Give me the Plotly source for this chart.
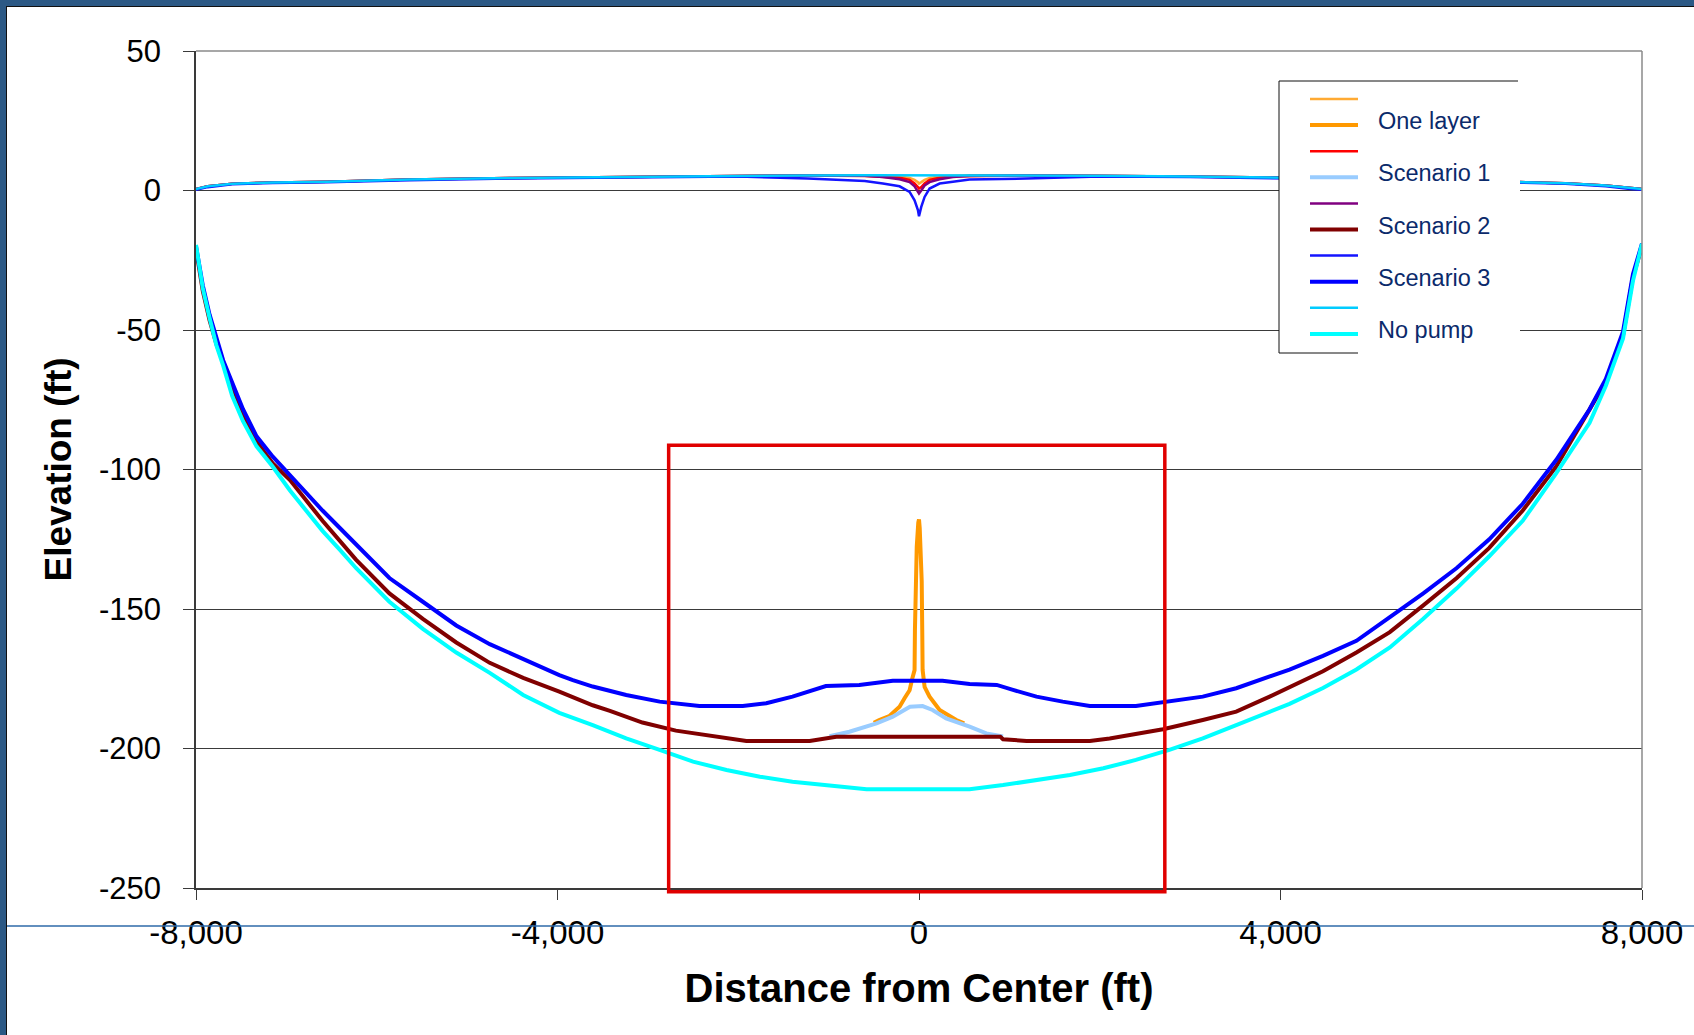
import plotly.graph_objects as go

# ---------------------------------------------------------------- axes
X_RANGE = [-8000, 8000]
Y_RANGE = [-250, 50]
X_TICKS = [-8000, -4000, 0, 4000, 8000]
X_TICK_LABELS = ["-8,000", "-4,000", "0", "4,000", "8,000"]
Y_TICKS = [50, 0, -50, -100, -150, -200, -250]
Y_TICK_LABELS = ["50", "0", "-50", "-100", "-150", "-200", "-250"]

# ---------------------------------------------------------------- water table (ft)
WT_X = [-8000, -7870, -7600, -7150, -6550, -5640, -4500, -3000, -2000, -1230,
        -600, -400, -215, -104, -49, -12, 0, 25, 62, 117, 228, 375, 560,
        1190, 2000, 3000, 4500, 5640, 6550, 7150, 7600, 7870, 8000]
WT_ONE_LAYER = [0.5, 1.5, 2.4, 2.9, 3.1, 3.9, 4.5, 5.0, 5.3, 5.4,
                5.5, 5.3, 5.0, 4.5, 3.8, 3.0, 2.5, 3.0, 3.8, 4.5, 5.0, 5.3, 5.5,
                5.4, 5.3, 5.0, 4.5, 3.9, 3.1, 2.6, 1.8, 0.8, 0.5]
WT_SCEN1 = [0.5, 1.5, 2.4, 2.9, 3.1, 3.9, 4.5, 5.0, 5.3, 5.4,
            5.2, 5.0, 4.6, 3.8, 2.5, 1.2, 0.7, 1.2, 2.5, 3.8, 4.6, 5.0, 5.1,
            5.4, 5.3, 5.0, 4.5, 3.9, 3.1, 2.6, 1.8, 0.8, 0.5]
WT_SCEN2 = [0.5, 1.5, 2.4, 2.9, 3.1, 3.9, 4.5, 5.0, 5.3, 5.4,
            5.3, 4.8, 4.0, 3.0, 1.5, -0.5, -1.1, 0.0, 1.8, 3.0, 4.0, 4.8, 5.3,
            5.4, 5.3, 5.0, 4.5, 3.9, 3.1, 2.6, 1.8, 0.8, 0.5]
WT_SCEN3 = [0.3, 1.2, 2.2, 2.7, 3.0, 3.7, 4.3, 4.8, 5.0, 4.3,
            3.4, 2.5, 1.5, -0.5, -3.5, -7.0, -9.2, -5.9, -2.3, 0.7, 2.5, 3.1, 3.9,
            4.3, 5.0, 4.8, 4.3, 3.7, 2.9, 2.4, 1.5, 0.5, 0.3]
WT_NO_PUMP = [0.5, 1.5, 2.4, 2.9, 3.1, 3.9, 4.5, 5.0, 5.3, 5.4,
              5.5, 5.5, 5.5, 5.5, 5.5, 5.5, 5.5, 5.5, 5.5, 5.5, 5.5, 5.5, 5.5,
              5.4, 5.3, 5.0, 4.5, 3.9, 3.1, 2.6, 1.8, 0.8, 0.5]

# ---------------------------------------------------------------- interface (ft)
ONE_LAYER_X = [-500, -440, -330, -215, -160, -104, -75, -49, -45, -30, -25, -8, 0,
               8, 30, 36, 40, 62, 117, 228, 413, 500]
ONE_LAYER_Y = [-190.8, -189.8, -188.4, -185.0, -182.0, -179.1, -175.0, -171.9,
               -157.5, -135.0, -127.7, -119.0, -117.9, -121.0, -140.0, -157.5,
               -171.9, -177.9, -181.4, -186.2, -189.8, -191.0]

SCEN1_X = [-990, -770, -470, -290, -100, 40, 150, 300, 560, 745, 930]
SCEN1_Y = [-195.6, -194.0, -191.0, -188.6, -185.0, -184.8, -186.2, -189.2,
           -192.2, -194.6, -195.7]

SCEN2_X = [-8000, -7925, -7850, -7775, -7700, -7480, -7330, -7150, -6960, -6600,
           -6230, -5860, -5490, -5120, -4750, -4380, -3980, -3610, -3420, -3060,
           -2690, -2320, -1910, -1210, -915, 900, 930, 1190, 1890, 2110, 2400,
           2700, 3140, 3510, 3880, 4100, 4470, 4840, 5210, 5580, 5950, 6310,
           6680, 7050, 7350, 7600, 7790, 7900, 8000]
SCEN2_Y = [-21.0, -36.0, -46.5, -55.0, -61.5, -80.2, -89.9, -97.8, -103.8, -118.4,
           -132.3, -144.4, -153.5, -162.0, -169.3, -174.7, -179.6, -184.5, -186.5,
           -190.7, -193.6, -195.5, -197.3, -197.3, -195.8, -195.8, -196.7, -197.3,
           -197.3, -196.4, -194.8, -193.1, -189.8, -186.8, -181.4, -178.0, -172.3,
           -165.6, -158.3, -148.7, -138.9, -128.1, -114.7, -99.0, -82.1, -68.5,
           -52.0, -31.0, -20.0]

SCEN3_X = [-8000, -7925, -7850, -7775, -7700, -7480, -7330, -7150, -6960, -6600,
           -6230, -5860, -5490, -5120, -4750, -4380, -3980, -3830, -3610, -3240,
           -2870, -2430, -1950, -1690, -1400, -1030, -660, -290, 260, 560, 860,
           1040, 1300, 1590, 1890, 2400, 2660, 3140, 3510, 3880, 4100, 4470,
           4840, 5210, 5580, 5950, 6310, 6680, 7050, 7420, 7600, 7790, 7900, 8000]
SCEN3_Y = [-20.0, -34.0, -44.5, -53.0, -60.8, -78.4, -88.1, -95.4, -102.0, -114.7,
           -126.8, -138.9, -147.4, -155.9, -162.6, -168.0, -173.7, -175.5, -177.8,
           -180.8, -183.2, -184.8, -184.8, -183.8, -181.4, -177.6, -177.2, -175.7,
           -175.7, -176.9, -177.2, -179.0, -181.4, -183.2, -184.8, -184.8, -183.7,
           -181.4, -178.4, -174.3, -171.7, -166.8, -161.4, -152.9, -144.4, -135.3,
           -125.0, -112.3, -96.6, -78.4, -67.5, -50.6, -30.0, -19.0]

NO_PUMP_X = [-8000, -7925, -7850, -7775, -7700, -7600, -7480, -7330, -7150, -6960,
             -6780, -6600, -6410, -6230, -5860, -5490, -5120, -4750, -4380, -3980,
             -3610, -3240, -2870, -2500, -2130, -1760, -1400, -1030, -660, -580,
             0, 560, 930, 1300, 1670, 2040, 2400, 2770, 3140, 3510, 3880, 4100,
             4470, 4840, 5210, 5580, 5950, 6310, 6680, 7050, 7420, 7600, 7790,
             7900, 8000]
NO_PUMP_Y = [-19.5, -35.0, -45.7, -55.4, -62.7, -73.6, -82.7, -91.7, -99.0, -107.5,
             -114.8, -122.0, -128.7, -135.3, -147.4, -157.1, -165.6, -172.9, -180.8,
             -187.2, -191.6, -196.4, -200.5, -204.7, -207.7, -210.1, -211.9, -213.1,
             -214.3, -214.6, -214.6, -214.6, -213.1, -211.3, -209.5, -207.1, -204.1,
             -200.5, -196.4, -191.6, -186.8, -184.0, -178.3, -171.7, -163.8, -153.5,
             -142.6, -131.1, -118.4, -101.4, -83.3, -70.0, -53.0, -32.4, -19.1]

# Highlighted zone around the well field (data units)
FOCUS_X = [-2770, 2720]
FOCUS_Y = [-251.3, -91.3]

# ---------------------------------------------------------------- series, in drawing order
SERIES = [
    # (legend label, x, y, colour, width)
    ("", WT_X, WT_ONE_LAYER, "#FFAA33", 2.5),
    ("One layer", ONE_LAYER_X, ONE_LAYER_Y, "#FF9900", 4),
    ("", WT_X, WT_SCEN1, "#FF0000", 2.5),
    ("Scenario 1", SCEN1_X, SCEN1_Y, "#99CCFF", 4),
    ("", WT_X, WT_SCEN2, "#800080", 2.5),
    ("Scenario 2", SCEN2_X, SCEN2_Y, "#800000", 4),
    ("", WT_X, WT_SCEN3, "#1414FF", 2.5),
    ("Scenario 3", SCEN3_X, SCEN3_Y, "#0000FF", 4),
    ("", WT_X, WT_NO_PUMP, "#00CCFF", 2.5),
    ("No pump", NO_PUMP_X, NO_PUMP_Y, "#00FFFF", 4),
]

W, H = 1694, 1035
M_L, M_R, M_T, M_B = 196, 52, 51, 147
FONT = "Liberation Sans, Arial, sans-serif"

fig = go.Figure()
for name, xs, ys, color, width in SERIES:
    fig.add_trace(go.Scatter(x=xs, y=ys, mode="lines", name=name or " ",
                             line=dict(color=color, width=width),
                             showlegend=False, hoverinfo="x+y"))


def px(xp):
    """page pixel -> paper x"""
    return (xp - M_L) / (W - M_L - M_R)


def py(yp):
    """page pixel -> paper y"""
    return (H - M_B - yp) / (H - M_T - M_B)


def dx(v):
    return (v - X_RANGE[0]) / (X_RANGE[1] - X_RANGE[0])


def dy(v):
    return (v - Y_RANGE[0]) / (Y_RANGE[1] - Y_RANGE[0])


shapes = []
# slide frame: blue band along top and left, with a dark inner edge
FRAME = "#2C5985"
shapes.append(dict(type="rect", xref="paper", yref="paper", x0=px(0), x1=px(W),
                   y0=py(6), y1=py(-2), fillcolor=FRAME, line_width=0, layer="above"))
shapes.append(dict(type="rect", xref="paper", yref="paper", x0=px(-2), x1=px(6),
                   y0=py(H + 2), y1=py(0), fillcolor=FRAME, line_width=0, layer="above"))
shapes.append(dict(type="line", xref="paper", yref="paper", x0=px(6), x1=px(W),
                   y0=py(6.5), y1=py(6.5), line=dict(color="#111111", width=1)))
shapes.append(dict(type="line", xref="paper", yref="paper", x0=px(6.5), x1=px(6.5),
                   y0=py(6), y1=py(H), line=dict(color="#111111", width=1)))
shapes.append(dict(type="line", xref="paper", yref="paper", x0=px(7), x1=px(W),
                   y0=py(926), y1=py(926), line=dict(color="#2E6AA8", width=1.5)))

# plot-area border (top and right)
shapes.append(dict(type="line", xref="paper", yref="paper", x0=0, x1=1, y0=1, y1=1,
                   line=dict(color="#8A8A8A", width=1.5)))
shapes.append(dict(type="line", xref="paper", yref="paper", x0=1, x1=1, y0=0, y1=1,
                   line=dict(color="#8A8A8A", width=1.5)))

# highlighted zone
shapes.append(dict(type="rect", xref="paper", yref="paper",
                   x0=dx(FOCUS_X[0]), x1=dx(FOCUS_X[1]),
                   y0=dy(FOCUS_Y[0]), y1=dy(FOCUS_Y[1]),
                   line=dict(color="#E00000", width=3.5), fillcolor="rgba(0,0,0,0)"))

# legend box
LEG_L, LEG_R, LEG_T, LEG_B = 1279, 1520, 81, 353
shapes.append(dict(type="rect", xref="paper", yref="paper", x0=px(LEG_L), x1=px(LEG_R),
                   y0=py(LEG_B), y1=py(LEG_T), fillcolor="white", line_width=0))
for (x0, y0, x1, y1) in [(LEG_L, LEG_T, 1518, LEG_T), (LEG_L, LEG_T, LEG_L, LEG_B),
                         (LEG_L, LEG_B, 1358, LEG_B)]:
    shapes.append(dict(type="line", xref="paper", yref="paper", x0=px(x0), x1=px(x1),
                       y0=py(y0), y1=py(y1), line=dict(color="#111111", width=1)))

annotations = []
ROW0, ROW_STEP = 99, 26.1
for i, (name, _, _, color, width) in enumerate(SERIES):
    yrow = ROW0 + i * ROW_STEP
    shapes.append(dict(type="line", xref="paper", yref="paper", x0=px(1310), x1=px(1358),
                       y0=py(yrow), y1=py(yrow), line=dict(color=color, width=width)))
    if name:
        annotations.append(dict(xref="paper", yref="paper", x=px(1376), y=py(yrow - 4),
                                text=name, showarrow=False, xanchor="left",
                                yanchor="middle",
                                font=dict(family=FONT, size=23.5, color="#0B2A6B")))

fig.update_layout(
    width=W, height=H,
    margin=dict(l=M_L, r=M_R, t=M_T, b=M_B, autoexpand=False),
    paper_bgcolor="white", plot_bgcolor="white",
    showlegend=False,
    shapes=shapes, annotations=annotations,
    font=dict(family=FONT, color="black"),
)
fig.update_xaxes(
    range=X_RANGE, tickmode="array", tickvals=X_TICKS, ticktext=X_TICK_LABELS,
    showgrid=False, zeroline=False, showline=True, linecolor="#3A3A3A", linewidth=1.5,
    ticks="outside", ticklen=10, tickcolor="#3A3A3A", tickwidth=1,
    tickfont=dict(family=FONT, size=33, color="black"), ticklabelstandoff=5,
    title=dict(text="<b>Distance from Center (ft)</b>", standoff=24,
               font=dict(family=FONT, size=40, color="black")),
)
fig.update_yaxes(
    range=Y_RANGE, tickmode="array", tickvals=Y_TICKS, ticktext=Y_TICK_LABELS,
    showgrid=True, gridcolor="#3A3A3A", gridwidth=1, zeroline=False,
    showline=True, linecolor="#3A3A3A", linewidth=1.5,
    ticks="outside", ticklen=11, tickcolor="#3A3A3A", tickwidth=1,
    tickfont=dict(family=FONT, size=31, color="black"), ticklabelstandoff=16,
    title=dict(text="<b>Elevation (ft)</b>", standoff=16,
               font=dict(family=FONT, size=37, color="black")),
)

fig.write_html("out.html")
